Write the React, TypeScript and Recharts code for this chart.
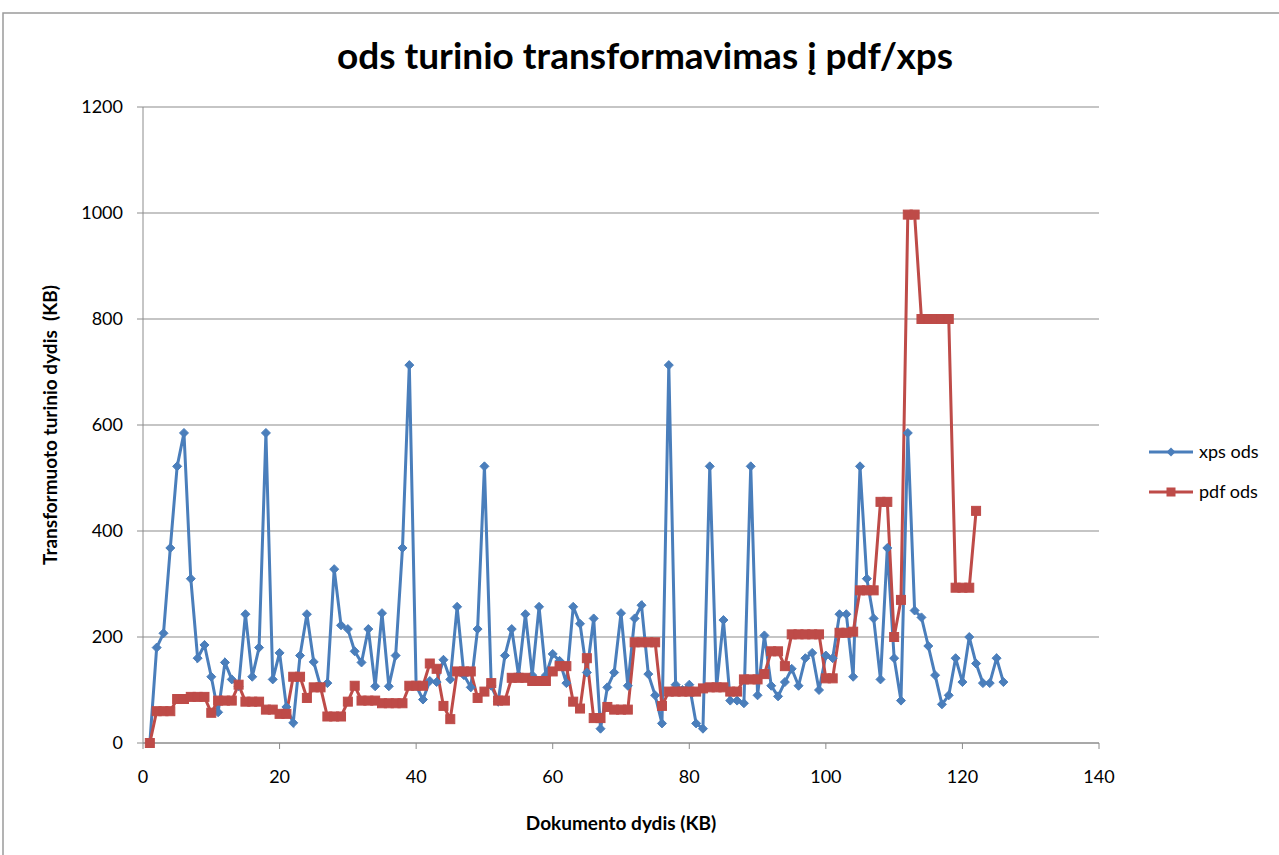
import React from "react";
import {
  LineChart,
  Line,
  XAxis,
  YAxis,
  CartesianGrid,
} from "recharts";

const xpsValues: number[] = [
  0, 180, 207, 368, 522, 585, 310, 160, 185, 125,
  58, 152, 120, 107, 243, 125, 180, 585, 120, 170,
  68, 38, 165, 243, 153, 107, 113, 328, 222, 215,
  173, 152, 215, 107, 245, 107, 165, 368, 713, 108,
  82, 117, 115, 157, 120, 257, 128, 105, 215, 522,
  108, 78, 165, 215, 128, 243, 128, 257, 128, 168,
  155, 113, 257, 225, 133, 235, 27, 105, 133, 245,
  108, 235, 260, 130, 90, 37, 713, 110, 100, 110,
  37, 27, 522, 105, 232, 80, 80, 75, 522, 90,
  203, 108, 88, 115, 140, 108, 160, 170, 100, 165,
  160, 243, 243, 125, 522, 310, 235, 120, 368, 160,
  80, 585, 250, 237, 183, 128, 73, 90, 160, 115,
  200, 150, 113, 113, 160, 115,
];

const pdfValues: number[] = [
  0, 60, 60, 60, 83, 83, 87, 87, 87, 57,
  80, 80, 80, 110, 78, 78, 78, 63, 63, 55,
  55, 125, 125, 85, 105, 105, 50, 50, 50, 78,
  108, 80, 80, 80, 75, 75, 75, 75, 108, 108,
  108, 150, 140, 70, 45, 135, 135, 135, 85, 97,
  113, 80, 80, 123, 123, 123, 117, 117, 117, 135,
  145, 145, 78, 65, 160, 47, 47, 68, 63, 63,
  63, 190, 190, 190, 190, 70, 97, 97, 97, 97,
  97, 103, 105, 105, 105, 97, 97, 120, 120, 120,
  130, 173, 173, 145, 205, 205, 205, 205, 205, 122,
  122, 208, 208, 210, 288, 288, 288, 455, 455, 200,
  270, 997, 997, 800, 800, 800, 800, 800, 293, 293,
  293, 438,
];

const xTicks = [0, 20, 40, 60, 80, 100, 120, 140];
const yTicks = [0, 200, 400, 600, 800, 1000, 1200];

const seriesNames = ["xps ods", "pdf ods"];
const BLUE = "#4A7EBB";
const RED = "#BE4B48";

const data = xpsValues.map((v, i) => ({
  x: i + 1,
  xps: v,
  pdf: i < pdfValues.length ? pdfValues[i] : null,
}));

const FONT = "Lato, 'Open Sans', sans-serif";

const Diamond = (props: any) => {
  const { cx, cy } = props;
  if (cx == null || cy == null) return null;
  const r = 4.5;
  return (
    <path
      d={`M${cx},${cy - r}L${cx + r},${cy}L${cx},${cy + r}L${cx - r},${cy}Z`}
      fill={BLUE}
      stroke={BLUE}
      strokeWidth={1}
    />
  );
};

const Square = (props: any) => {
  const { cx, cy } = props;
  if (cx == null || cy == null) return null;
  const r = 4.5;
  return <rect x={cx - r} y={cy - r} width={2 * r} height={2 * r} fill={RED} stroke={RED} />;
};

export default function App() {
  return (
    <div style={{ position: "absolute", left: 0, top: 0, background: "#fff" }}>
      <LineChart
        width={1279}
        height={855}
        data={data}
        margin={{ top: 107, right: 180, left: 83, bottom: 82 }}
        style={{ fontFamily: FONT }}
      >
        <rect x={3} y={13} width={1290} height={900} fill="none" stroke="#9a9a9a" strokeWidth={1.5} />
        <text
          x={645}
          y={69}
          textAnchor="middle"
          fontSize={37}
          fontWeight="bold"
          fontFamily={FONT}
          fill="#000"
        >
          ods turinio transformavimas į pdf/xps
        </text>
        <text
          x={621}
          y={830}
          textAnchor="middle"
          fontSize={19}
          fontWeight="bold"
          fontFamily={FONT}
          fill="#000"
        >
          Dokumento dydis (KB)
        </text>
        <text
          x={57}
          y={425}
          textAnchor="middle"
          fontSize={19}
          fontWeight="bold"
          fontFamily={FONT}
          fill="#000"
          transform="rotate(-90 57 425)"
          style={{ whiteSpace: "pre" }}
        >
          {"Transformuoto turinio dydis  (KB)"}
        </text>
        <g>
          <line x1={1149} y1={452} x2={1193} y2={452} stroke={BLUE} strokeWidth={3} />
          <path d="M1171,447.5L1175.5,452L1171,456.5L1166.5,452Z" fill={BLUE} />
          <text x={1199} y={458} fontSize={18} fontFamily={FONT} fill="#000">
            {seriesNames[0]}
          </text>
          <line x1={1149} y1={492} x2={1193} y2={492} stroke={RED} strokeWidth={3} />
          <rect x={1166.5} y={487.5} width={9} height={9} fill={RED} />
          <text x={1199} y={498} fontSize={18} fontFamily={FONT} fill="#000">
            {seriesNames[1]}
          </text>
        </g>
        <CartesianGrid vertical={false} stroke="#8c8c8c" strokeWidth={1.2} />
        <XAxis
          dataKey="x"
          type="number"
          domain={[0, 140]}
          ticks={xTicks}
          height={30}
          stroke="#8c8c8c"
          tickSize={6}
          tick={{ fill: "#000", fontSize: 18, fontFamily: FONT }}
          tickMargin={21}
        />
        <YAxis
          type="number"
          domain={[0, 1200]}
          ticks={yTicks}
          width={60}
          stroke="#8c8c8c"
          tickSize={6}
          tick={{ fill: "#000", fontSize: 18, fontFamily: FONT }}
          tickMargin={14}
        />
        <Line
          dataKey="xps"
          name={seriesNames[0]}
          stroke={BLUE}
          strokeWidth={3}
          dot={<Diamond />}
          activeDot={false}
          isAnimationActive={false}
          connectNulls={false}
        />
        <Line
          dataKey="pdf"
          name={seriesNames[1]}
          stroke={RED}
          strokeWidth={3}
          dot={<Square />}
          activeDot={false}
          isAnimationActive={false}
          connectNulls={false}
        />
      </LineChart>
    </div>
  );
}
